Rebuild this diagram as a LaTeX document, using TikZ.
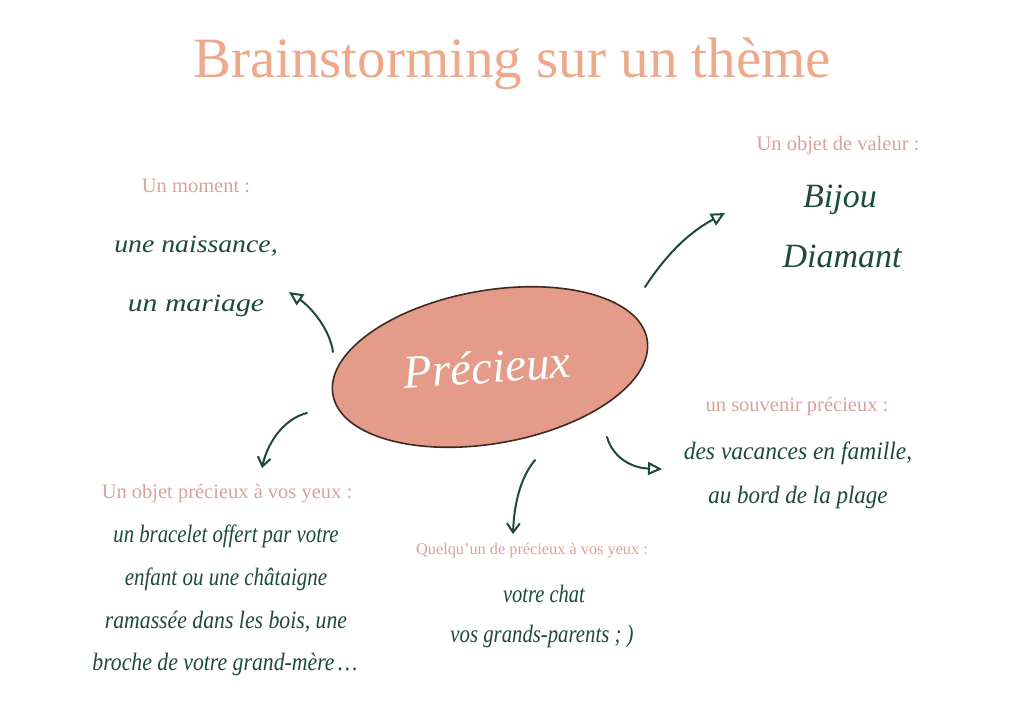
\documentclass[tikz,border=0pt]{standalone}
\usepackage{fontspec}
\setmainfont{Liberation Serif}
\usetikzlibrary{arrows.meta,shapes.geometric}
\definecolor{titlec}{HTML}{EEA98B}
\definecolor{labelc}{HTML}{D9A29B}
\definecolor{hand}{HTML}{1E4A3E}
\definecolor{ellfill}{HTML}{E59B89}
\definecolor{ellline}{HTML}{3F2A22}
\tikzset{
  titletext/.style={text=titlec, font=\fontsize{57}{64}\selectfont, inner sep=0pt},
  cat/.style={text=labelc, font=\fontsize{20.5}{24}\selectfont, inner sep=0pt},
  handtext/.style={text=hand, font=\itshape\fontsize{25}{30}\selectfont, inner sep=0pt},
  bigtext/.style={text=hand, font=\itshape\fontsize{34}{40}\selectfont, inner sep=0pt},
  arr/.style={draw=hand, line width=2pt, line cap=round, -{Triangle[open, length=14pt, width=13pt, line width=2pt]}},
  arrv/.style={draw=hand, line width=2pt, line cap=round, -{Straight Barb[length=9pt, width=13pt, line width=2pt]}},
}
\begin{document}
\begin{tikzpicture}[x=1pt,y=-1pt]
\useasboundingbox[fill=white] (0,0) rectangle (1024,726);
% title
\node[titletext, anchor=base] (title) at (512,77) {Brainstorming sur un thème};
% center
\node[draw=ellline, fill=ellfill, line width=1.6pt, ellipse, minimum width=319pt, minimum height=153pt, rotate=10, inner sep=0pt] (center) at (490,367) {};
\node[text=white, font=\itshape\fontsize{47}{52}\selectfont, inner sep=0pt, rotate=4] (prec) at (487,367) {Précieux};
% top left
\node[cat] (momentlab) at (196,186) {Un moment :};
\node[handtext, xscale=1.11] (moment1) at (196,246) {une naissance,};
\node[handtext, xscale=1.19] (moment2) at (196,306) {un mariage};
% top right
\node[cat] (valeurlab) at (838,146) {Un objet de valeur :};
\node[bigtext] (val1) at (840,200) {Bijou};
\node[bigtext] (val2) at (842,256) {Diamant};
% right
\node[cat] (souvlab) at (797,407) {un souvenir précieux :};
\node[handtext, xscale=0.94] (souv1) at (798,453) {des vacances en famille,};
\node[handtext, xscale=0.92] (souv2) at (798,497) {au bord de la plage};
% bottom left
\node[cat] (objlab) at (227,494) {Un objet précieux à vos yeux :};
\node[handtext, xscale=0.83] (obj1) at (226,536) {un bracelet offert par votre};
\node[handtext, xscale=0.84] (obj2) at (226,579) {enfant ou une châtaigne};
\node[handtext, xscale=0.87] (obj3) at (226,622) {ramassée dans les bois, une};
\node[handtext, xscale=0.87] (obj4) at (225,664) {broche de votre grand-mère\,\dots};
% bottom middle
\node[cat, font=\fontsize{16.3}{19}\selectfont] (quelqlab) at (532,551) {Quelqu'un de précieux à vos yeux :};
\node[handtext, xscale=0.82] (quel1) at (544,594) {votre chat};
\node[handtext, xscale=0.83] (quel2) at (542,636) {vos grands-parents ; )};
% arrow ends
\coordinate (a1s) at (333,352);
\coordinate (a1e) at (289,292);
\coordinate (a2s) at (645,287);
\coordinate (a2e) at (725,213);
\coordinate (a3s) at (607,437);
\coordinate (a3e) at (662,469);
\coordinate (a4s) at (535,460);
\coordinate (a4e) at (513,534);
\coordinate (a5s) at (307,413);
\coordinate (a5e) at (262,468);
\draw[arr] (a1s) .. controls (330,330) and (312,308) .. (a1e);
\draw[arr] (a2s) .. controls (668,252) and (690,232) .. (a2e);
\draw[arr] (a3s) .. controls (613,458) and (632,468) .. (a3e);
\draw[arrv] (a4s) .. controls (520,478) and (514,505) .. (a4e);
\draw[arrv] (a5s) .. controls (286,418) and (268,440) .. (a5e);
\end{tikzpicture}
\end{document}
